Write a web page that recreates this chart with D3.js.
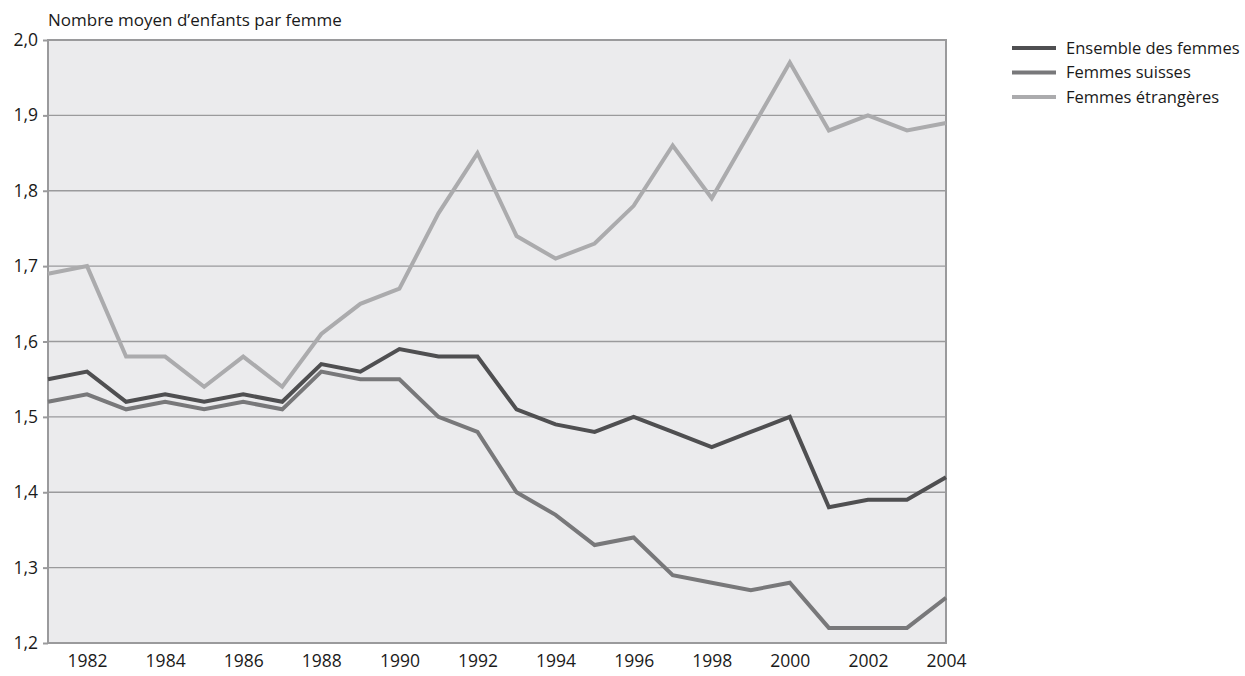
<!DOCTYPE html>
<html lang="fr">
<head>
  <meta charset="UTF-8">
  <title>Nombre moyen d'enfants par femme</title>
  <script src="https://d3js.org/d3.v7.min.js"></script>
  <style>
    body { margin: 0; background: #fff; font-family: "Open Sans", "DejaVu Sans", sans-serif; }
  </style>
</head>
<body>
  <svg id="chart" width="1245" height="676"></svg>

  <script>
    const years = d3.range(1981, 2005);
    const ensemble = [1.55, 1.56, 1.52, 1.53, 1.52, 1.53, 1.52, 1.57, 1.56, 1.59, 1.58, 1.58,
                      1.51, 1.49, 1.48, 1.50, 1.48, 1.46, 1.48, 1.50, 1.38, 1.39, 1.39, 1.42];
    const suisses = [1.52, 1.53, 1.51, 1.52, 1.51, 1.52, 1.51, 1.56, 1.55, 1.55, 1.50, 1.48,
                     1.40, 1.37, 1.33, 1.34, 1.29, 1.28, 1.27, 1.28, 1.22, 1.22, 1.22, 1.26];
    const etrangeres = [1.69, 1.70, 1.58, 1.58, 1.54, 1.58, 1.54, 1.61, 1.65, 1.67, 1.77, 1.85,
                        1.74, 1.71, 1.73, 1.78, 1.86, 1.79, 1.88, 1.97, 1.88, 1.90, 1.88, 1.89];
    const yTicks = [1.2, 1.3, 1.4, 1.5, 1.6, 1.7, 1.8, 1.9, 2.0];
    const xTicks = d3.range(1982, 2005, 2);

    const series = [
      { name: "Ensemble des femmes", values: ensemble, color: "#4f4f51" },
      { name: "Femmes suisses", values: suisses, color: "#78787a" },
      { name: "Femmes étrangères", values: etrangeres, color: "#ababad" }
    ];

    const font = "'Open Sans', 'DejaVu Sans', sans-serif";
    const svg = d3.select("#chart");
    const m = { left: 48, top: 40, right: 946, bottom: 643 };

    const x = d3.scaleLinear().domain([1981, 2004]).range([m.left, m.right]);
    const y = d3.scaleLinear().domain([1.2, 2.0]).range([m.bottom, m.top]);

    // plot background
    svg.append("rect")
      .attr("x", m.left).attr("y", m.top)
      .attr("width", m.right - m.left).attr("height", m.bottom - m.top)
      .attr("fill", "#ebebed");

    // grid lines
    svg.append("g")
      .selectAll("line")
      .data(yTicks)
      .join("line")
      .attr("x1", m.left).attr("x2", m.right)
      .attr("y1", d => y(d)).attr("y2", d => y(d))
      .attr("stroke", "#9a9a9c")
      .attr("stroke-width", 1.3);

    // frame
    svg.append("rect")
      .attr("x", m.left).attr("y", m.top)
      .attr("width", m.right - m.left).attr("height", m.bottom - m.top)
      .attr("fill", "none")
      .attr("stroke", "#9a9a9c")
      .attr("stroke-width", 2);

    const fmt = d => d.toFixed(1).replace(".", ",");

    // y axis
    const yAxis = svg.append("g")
      .attr("transform", `translate(${m.left},0)`)
      .call(d3.axisLeft(y).tickValues(yTicks).tickFormat(fmt).tickSize(5).tickPadding(5));
    yAxis.select(".domain").remove();
    yAxis.selectAll("line").attr("stroke", "#9a9a9c").attr("stroke-width", 2);
    yAxis.selectAll("text")
      .attr("font-family", font)
      .attr("font-size", 17.5).attr("fill", "#1a1a1a");

    // x axis
    const xAxis = svg.append("g")
      .attr("transform", `translate(0,${m.bottom})`)
      .call(d3.axisBottom(x).tickValues(xTicks).tickFormat(d3.format("d")).tickSize(0).tickPadding(12));
    xAxis.select(".domain").remove();
    xAxis.selectAll("text")
      .attr("font-family", font)
      .attr("font-size", 17.5).attr("fill", "#1a1a1a");

    // axis title
    svg.append("text")
      .attr("x", 48).attr("y", 26)
      .attr("font-family", font)
      .attr("font-size", 17).attr("fill", "#1a1a1a")
      .text("Nombre moyen d’enfants par femme");

    // lines
    const line = d3.line()
      .x((d, i) => x(years[i]))
      .y(d => y(d));

    svg.append("g")
      .selectAll("path")
      .data(series.slice().reverse())
      .join("path")
      .attr("d", d => line(d.values))
      .attr("fill", "none")
      .attr("stroke", d => d.color)
      .attr("stroke-width", 4)
      .attr("stroke-linejoin", "miter");

    // legend
    const legend = svg.append("g")
      .selectAll("g")
      .data(series)
      .join("g")
      .attr("transform", (d, i) => `translate(1012,${48 + i * 24.5})`);
    legend.append("line")
      .attr("x1", 0).attr("x2", 44)
      .attr("stroke", d => d.color)
      .attr("stroke-width", 4);
    legend.append("text")
      .attr("x", 54).attr("dy", "0.35em")
      .attr("font-family", font)
      .attr("font-size", 16.5).attr("fill", "#1a1a1a")
      .text(d => d.name);
  </script>
</body>
</html>
